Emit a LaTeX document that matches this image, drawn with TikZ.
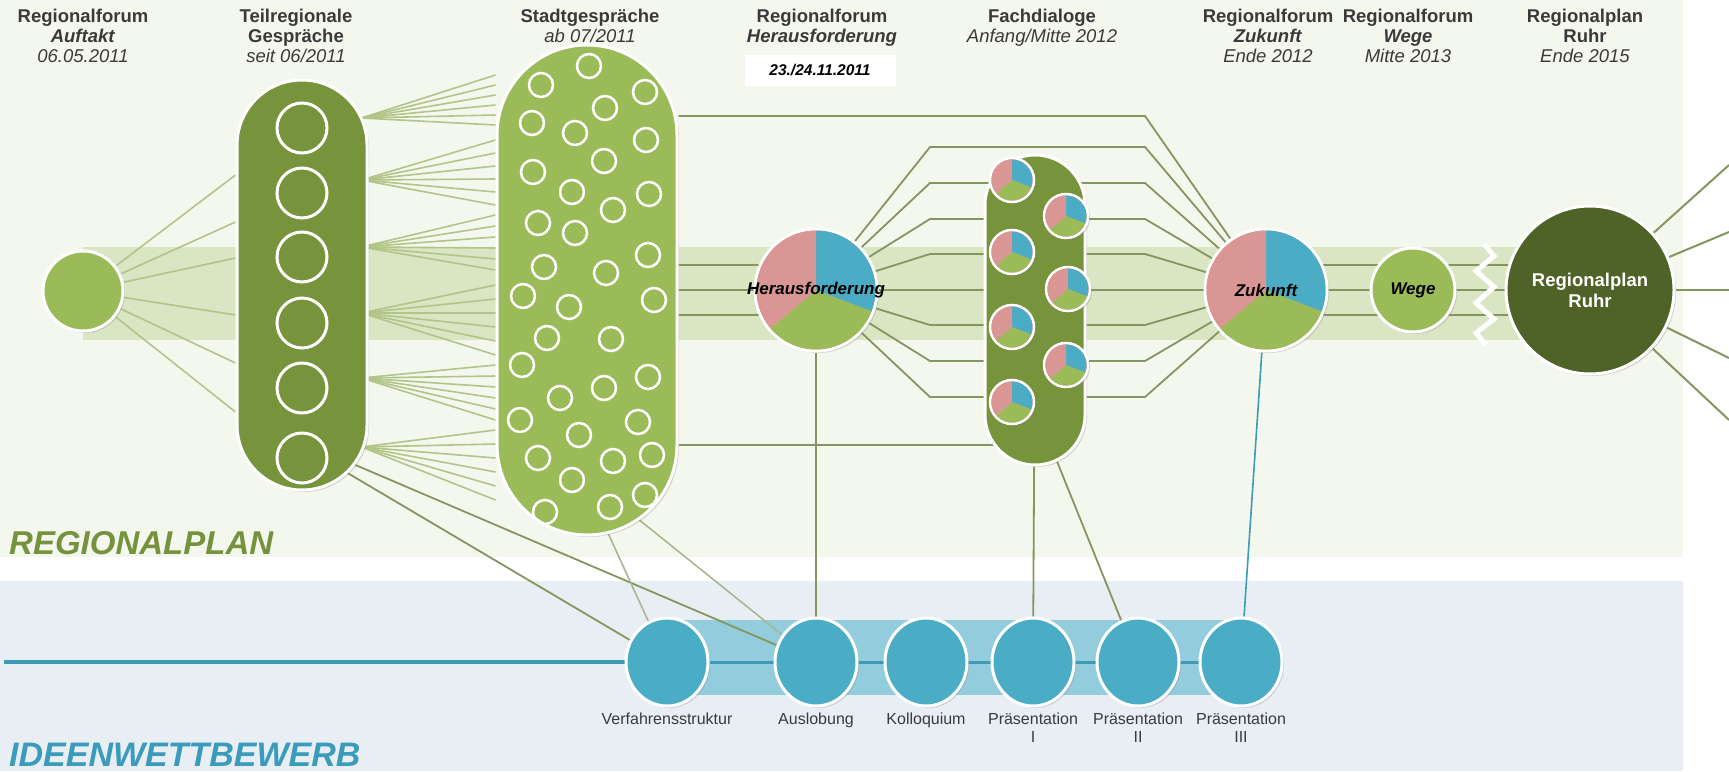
\documentclass[tikz,border=0pt]{standalone}
\usepackage{fontspec}
\setmainfont{Liberation Sans}
\usetikzlibrary{positioning,calc,shapes.geometric,shadows}

\definecolor{panelgreen}{HTML}{F4F7EE}
\definecolor{panelblue}{HTML}{E9EEF5}
\definecolor{bandgreen}{HTML}{D9E5C3}
\definecolor{lightgreen}{HTML}{9BBB59}
\definecolor{midgreen}{HTML}{77933C}
\definecolor{darkgreen}{HTML}{4F6228}
\definecolor{piepink}{HTML}{D99694}
\definecolor{pieblue}{HTML}{4BACC6}
\definecolor{tubeblue}{HTML}{93CDDD}
\definecolor{lineblue}{HTML}{3D9BB6}
\definecolor{fangreen}{HTML}{B0C587}
\definecolor{linkgreen}{HTML}{849660}
\definecolor{headgray}{HTML}{3A3A3A}
\definecolor{titlegreen}{HTML}{76923C}
\definecolor{titleblue}{HTML}{3A9CBA}

\pgfdeclarelayer{panel}
\pgfdeclarelayer{links}
\pgfsetlayers{panel,links,main}

% pie with blue, green and pink slices: x, y, radius
\newcommand{\piechart}[3]{%
  \begin{scope}[shift={(#1,#2)}, y=1pt]
    \fill[pieblue] (0,0) -- (90:#3) arc[start angle=90, end angle=-21, radius=#3] -- cycle;
    \fill[lightgreen] (0,0) -- (-21:#3) arc[start angle=-21, end angle=-140, radius=#3] -- cycle;
    \fill[piepink] (0,0) -- (-140:#3) arc[start angle=-140, end angle=-270, radius=#3] -- cycle;
  \end{scope}}

\tikzset{
  head/.style={font=\fontsize{18.5}{20}\selectfont\bfseries, text=headgray, align=center, anchor=north, inner sep=0pt},
  softshadow/.style={drop shadow={opacity=0.3, shadow xshift=2pt, shadow yshift=-2pt}},
  bubble/.style={circle, draw=white, line width=3pt, inner sep=0pt, softshadow},
  capsule/.style={rectangle, draw=white, line width=3pt, inner sep=0pt, softshadow},
  ring/.style={draw=white, line width=2.5pt},
  fan/.style={fangreen, line width=1.6pt},
  link/.style={linkgreen, line width=1.8pt},
  station/.style={ellipse, fill=pieblue, draw=white, line width=3pt, minimum width=82pt, minimum height=88pt, inner sep=0pt, softshadow},
  stationlabel/.style={font=\fontsize{16}{18}\selectfont, text=headgray, align=center, inner sep=0pt},
  pietext/.style={font=\fontsize{17}{17}\selectfont\bfseries\itshape, text=black, inner sep=0pt},
}

\begin{document}
\begin{tikzpicture}[x=1pt, y=-1pt]

    \useasboundingbox (0,0) rectangle (1729,771);

    % Draw Panels and Band
    \begin{pgfonlayer}{panel}
      \fill[panelgreen] (0,0) rectangle (1683,557);            % Regionalplan Panel
      \fill[panelblue] (0,581) rectangle (1683,771);           % Ideenwettbewerb Panel
      \fill[bandgreen] (83,247) rectangle (1590,340);          % Band
      \fill[tubeblue] (667,620) rectangle (1241,695);          % Tube
    \end{pgfonlayer}

    % Draw Header
    \node[head] (h1) at (83,9) {Regionalforum\\\textit{Auftakt}\\\textmd{\textit{06.05.2011}}};
    \node[head] (h2) at (296,9) {Teilregionale\\Gespräche\\\textmd{\textit{seit 06/2011}}};
    \node[head] (h3) at (590,9) {Stadtgespräche\\\textmd{\textit{ab 07/2011}}};
    \node[head] (h4) at (822,9) {Regionalforum\\\textit{Herausforderung}};
    \node[fill=white, minimum width=151pt, minimum height=31pt, font=\fontsize{15.5}{15.5}\selectfont\bfseries\itshape] (h4date) at (820,70) {23./24.11.2011};
    \node[head] (h5) at (1042,9) {Fachdialoge\\\textmd{\textit{Anfang/Mitte 2012}}};
    \node[head] (h6) at (1268,9) {Regionalforum\\\textit{Zukunft}\\\textmd{\textit{Ende 2012}}};
    \node[head] (h7) at (1408,9) {Regionalforum\\\textit{Wege}\\\textmd{\textit{Mitte 2013}}};
    \node[head] (h8) at (1585,9) {Regionalplan\\Ruhr\\\textmd{\textit{Ende 2015}}};

    % Draw Regionalplan Nodes
    \node[bubble, fill=lightgreen, minimum size=80pt] (auftakt) at (83,291) {};
    \node[capsule, fill=midgreen, minimum width=130pt, minimum height=410pt, rounded corners=65pt] (teil) at (302,285) {};
    \foreach \y in {128,193,257,323,388,458}
      \draw[ring, line width=3pt] (302,\y) circle[radius=25];
    \node[capsule, fill=lightgreen, minimum width=180pt, minimum height=490pt, rounded corners=90pt] (stadt) at (587,290) {};
    \foreach \x/\y in {589/66, 541/85, 645/92, 605/108, 532/123, 575/133, 646/140, 604/161,
                       533/172, 572/192, 649/194, 613/210, 538/223, 575/233, 648/255, 544/267,
                       606/273, 523/296, 569/307, 654/300, 547/338, 611/339, 522/365, 648/377,
                       560/398, 604/388, 520/420, 638/422, 579/435, 538/458, 613/461, 652/455,
                       572/480, 645/495, 545/512, 610/507}
      \draw[ring] (\x,\y) circle[radius=12];
    \node[bubble, fill=piepink, minimum size=122pt] (herausf) at (816,290) {};
    \piechart{816}{290}{59.5}
    \node[pietext] (herausf-text) at (herausf) {Herausforderung};
    \node[capsule, fill=midgreen, minimum width=100pt, minimum height=310pt, rounded corners=50pt] (fach) at (1035,310) {};
    \foreach \x/\y [count=\i] in {1012/180, 1066/216, 1012/252, 1068/289, 1012/327, 1066/365, 1012/402}{
      \node[bubble, line width=2.5pt, fill=piepink, minimum size=44pt] (fp\i) at (\x,\y) {};
      \piechart{\x}{\y}{20.5}
    }
    \node[bubble, fill=piepink, minimum size=122pt] (zukunft) at (1266,290) {};
    \piechart{1266}{290}{59.5}
    \node[pietext] (zukunft-text) at (zukunft) {Zukunft};
    \node[bubble, fill=lightgreen, minimum size=84pt, pietext] (wege) at (1413,290) {Wege};
    \node[bubble, fill=darkgreen, minimum size=168pt, font=\fontsize{18.5}{21}\selectfont\bfseries, text=white, align=center] (ruhr) at (1590,290) {Regionalplan\\Ruhr};

    % Draw Break
    \draw[white, line width=5pt] (1484,244) -- (1494,256) -- (1476,271) -- (1494,287) -- (1476,303) -- (1494,319) -- (1476,333) -- (1486,345);

    % Draw Ideenwettbewerb Nodes
    \node[station] (verf) at (667,662) {};
    \node[station] (ausl) at (816,662) {};
    \node[station] (kollo) at (926,662) {};
    \node[station] (praes1) at (1033,662) {};
    \node[station] (praes2) at (1138,662) {};
    \node[station] (praes3) at (1241,662) {};
    \node[stationlabel, below=5pt of verf] (verf-l) {Verfahrensstruktur};
    \node[stationlabel, below=5pt of ausl] (ausl-l) {Auslobung};
    \node[stationlabel, below=5pt of kollo] (kollo-l) {Kolloquium};
    \node[stationlabel, below=5pt of praes1] (praes1-l) {Präsentation\\I};
    \node[stationlabel, below=5pt of praes2] (praes2-l) {Präsentation\\II};
    \node[stationlabel, below=5pt of praes3] (praes3-l) {Präsentation\\III};
    \coordinate (ideenstart) at (4,662);

    % Draw Titles
    \node[anchor=west, inner sep=0pt, font=\fontsize{33}{33}\selectfont\bfseries\itshape, text=titlegreen] (rp-title) at (9,543) {REGIONALPLAN};
    \node[anchor=west, inner sep=0pt, font=\fontsize{34}{34}\selectfont\bfseries\itshape, text=titleblue] (iw-title) at (9,755) {IDEENWETTBEWERB};

    % Draw Connectors
    \begin{pgfonlayer}{links}
      \foreach \t in {175,222,258,315,363,412}
        \draw[fan] (auftakt) -- (teil.west |- 0,\t);                % Auftakt fan
      \foreach \s/\a/\b in {118/75/125, 180/140/205, 247/215/270, 313/285/355, 378/365/420, 447/430/500}
        \foreach \k in {0,...,5}{
          \pgfmathsetmacro\ty{\a+\k*(\b-\a)/5}
          \draw[fan] ($(teil.east |- 0,\s)+(-7,0)$) -- (stadt.west |- 0,\ty);   % Teilregionale fan
        }
      \foreach \l in {265,290,315}
        \draw[link] (stadt.center |- 0,\l) -- (herausf.center |- 0,\l);
      \draw[link] (stadt.east |- 0,116) -- (1145,116) -- (zukunft);
      \draw[link] (stadt.east |- 0,445) -- (fach.center |- 0,445);
      \foreach \l in {147,183,219,254,290,325,361,397}
        \draw[link] (herausf) -- (930,\l) -- (1145,\l) -- (zukunft);
      \foreach \l in {265,290,315}
        \draw[link] (zukunft.center |- 0,\l) -- (ruhr.center |- 0,\l);
      \foreach \y [count=\i] in {165,232,290,358,420}{
        \coordinate (edge\i) at (1729,\y);
        \draw[link, line width=2pt] (ruhr) -- (edge\i);
      }
      % down to Ideenwettbewerb
      \draw[link] ($(teil.south)+(43,-20)$) -- (verf);
      \draw[link] ($(teil.south)+(50,-28)$) -- (ausl);
      \draw[fan, linkgreen!70] ($(stadt.south)+(18,-10)$) -- (verf);
      \draw[fan, linkgreen!70] ($(stadt.south)+(48,-20)$) -- (ausl);
      \draw[link] (herausf) -- (ausl);
      \draw[link] (fach) -- (praes1);
      \draw[link] ($(fach.south)+(20,-10)$) -- (praes2);
      \draw[lineblue, line width=1.6pt] (zukunft) -- (praes3);
      \draw[lineblue, line width=4pt] (ideenstart) -- (verf);
      \draw[lineblue, line width=3pt] (verf) -- (praes3);
    \end{pgfonlayer}

\end{tikzpicture}
\end{document}
